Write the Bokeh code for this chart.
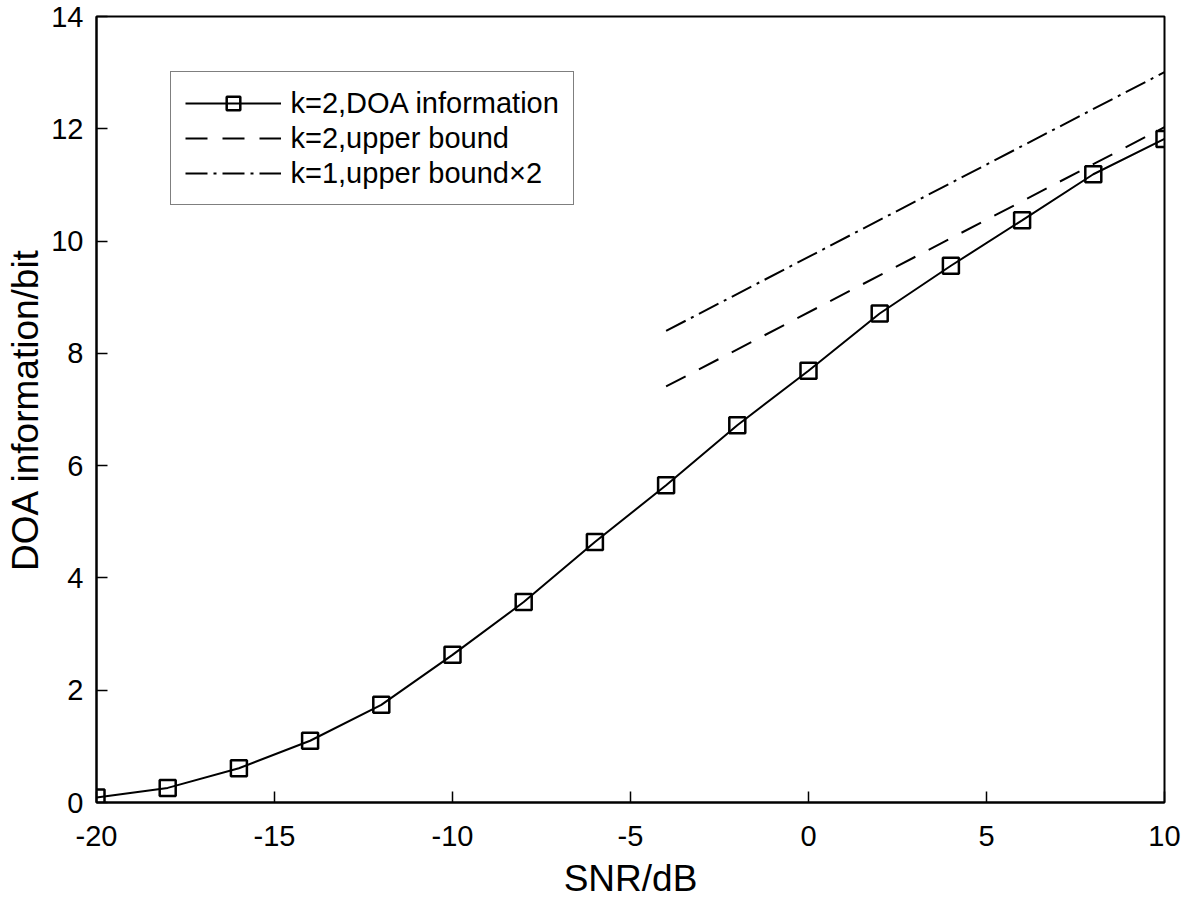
from bokeh.plotting import figure
from bokeh.models import Legend, LegendItem
from bokeh.embed import file_html
from bokeh.resources import INLINE

# ---- data ----
snr = [-20, -18, -16, -14, -12, -10, -8, -6, -4, -2, 0, 2, 4, 6, 8, 10]
doa_info = [0.09, 0.26, 0.61, 1.10, 1.74, 2.63, 3.57, 4.64, 5.65, 6.72, 7.69, 8.71, 9.56, 10.37, 11.19, 11.82]
bound_snr = [-4, 10]
k2_upper = [7.41, 12.03]
k1_upper_x2 = [8.40, 13.01]
x_ticks = [-20, -15, -10, -5, 0, 5, 10]
y_ticks = [0, 2, 4, 6, 8, 10, 12, 14]
series_labels = ["k=2,DOA information", "k=2,upper bound", "k=1,upper bound\u00d72"]
x_label = "SNR/dB"
y_label = "DOA information/bit"

FONT = "Liberation Sans"

p = figure(width=1181, height=901, x_range=(-20, 10), y_range=(0, 14),
           output_backend="svg", toolbar_location=None,
           min_border_left=96, min_border_right=17, min_border_top=16, min_border_bottom=97)

r_line = p.line(snr, doa_info, line_color="black", line_width=2)
r_sq = p.scatter(snr, doa_info, marker="square", size=16, fill_color=None,
                 line_color="black", line_width=2.5)
r_dash = p.line(bound_snr, k2_upper, line_color="black", line_width=2, line_dash="22 15")
r_dd = p.line(bound_snr, k1_upper_x2, line_color="black", line_width=2, line_dash="22 6 3 6")

legend = Legend(items=[LegendItem(label=series_labels[0], renderers=[r_line, r_sq]),
                       LegendItem(label=series_labels[1], renderers=[r_dash]),
                       LegendItem(label=series_labels[2], renderers=[r_dd])],
                location=(73.5, 597))
legend.glyph_width = 96
legend.glyph_height = 34
legend.spacing = 1
legend.padding = 14
legend.margin = 0
legend.label_standoff = 10
legend.label_text_font = FONT
legend.label_text_font_size = "29px"
legend.label_text_color = "black"
legend.border_line_color = "black"
legend.border_line_width = 1.5
legend.background_fill_color = "white"
legend.background_fill_alpha = 1
p.add_layout(legend)

p.xaxis.ticker = x_ticks
p.yaxis.ticker = y_ticks
p.xaxis.major_label_overrides = {v: str(v) for v in x_ticks}
p.yaxis.major_label_overrides = {v: str(v) for v in y_ticks}
p.xaxis.axis_label = x_label
p.yaxis.axis_label = y_label

for ax in (p.xaxis, p.yaxis):
    ax.major_tick_in = 11
    ax.major_tick_out = 0
    ax.minor_tick_in = 0
    ax.minor_tick_out = 0
    ax.axis_line_width = 2
    ax.axis_line_color = "black"
    ax.major_tick_line_width = 1.5
    ax.major_tick_line_color = "black"
    ax.major_label_text_font = FONT
    ax.major_label_text_font_size = "29px"
    ax.major_label_text_color = "black"
    ax.axis_label_text_font = FONT
    ax.axis_label_text_font_size = "37px"
    ax.axis_label_text_font_style = "normal"
    ax.axis_label_text_color = "black"
    ax.axis_label_text_line_height = 0.9

p.xaxis.major_label_standoff = 23
p.xaxis.axis_label_standoff = 9
p.yaxis.major_label_standoff = 13
p.yaxis.axis_label_standoff = 2

p.xgrid.visible = False
p.ygrid.visible = False
p.outline_line_color = "black"
p.outline_line_width = 2
p.outline_line_alpha = 1

open("out.html", "w").write(file_html(p, INLINE))
